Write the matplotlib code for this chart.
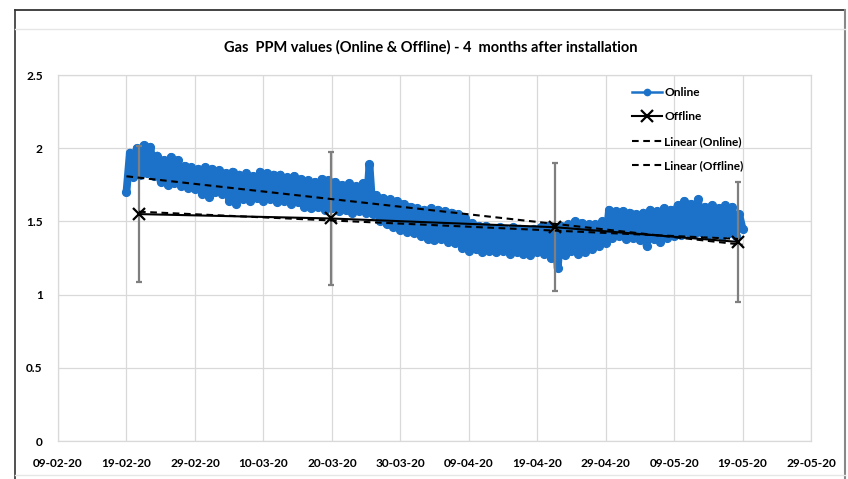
import numpy as np
import matplotlib
matplotlib.use("Agg")
import matplotlib.pyplot as plt
import matplotlib.dates as mdates
from matplotlib.ticker import FuncFormatter, MultipleLocator
from matplotlib.lines import Line2D

plt.rcParams['font.family'] = ['Lato', 'DejaVu Sans']
plt.rcParams['font.weight'] = 'bold'
plt.rcParams['path.simplify'] = False

title = "Gas  PPM values (Online & Offline) - 4  months after installation"

# Online readings, one value every 12 hours starting 19-02-20
online_start = "2020-02-19"
online_values = [
    1.70,
    1.97, 1.80, 2.00, 1.82, 2.02, 1.83, 2.01, 1.81, 1.95, 1.77,
    1.92, 1.75, 1.94, 1.76, 1.92, 1.74, 1.88, 1.73, 1.87, 1.72,
    1.86, 1.69, 1.87, 1.67, 1.86, 1.70, 1.85, 1.69, 1.83, 1.64,
    1.84, 1.62, 1.82, 1.65, 1.83, 1.64, 1.81, 1.66, 1.84, 1.64,
    1.83, 1.65, 1.82, 1.63, 1.82, 1.64, 1.80, 1.62, 1.81, 1.63,
    1.79, 1.60, 1.78, 1.59, 1.77, 1.60, 1.79, 1.58, 1.78, 1.59,
    1.77, 1.57, 1.75, 1.58, 1.76, 1.56, 1.74, 1.57, 1.76, 1.56,
    1.89, 1.55, 1.68, 1.50, 1.66, 1.48, 1.65, 1.46, 1.64, 1.44,
    1.62, 1.43, 1.60, 1.42, 1.59, 1.40, 1.58, 1.38, 1.59, 1.37,
    1.58, 1.38, 1.57, 1.36, 1.56, 1.35, 1.55, 1.32, 1.52, 1.30,
    1.49, 1.31, 1.47, 1.29, 1.47, 1.30, 1.45, 1.29, 1.46, 1.30,
    1.44, 1.28, 1.46, 1.29, 1.45, 1.28, 1.44, 1.27, 1.45, 1.29,
    1.46, 1.28, 1.47, 1.25, 1.46, 1.18, 1.47, 1.27, 1.48, 1.30,
    1.50, 1.28, 1.49, 1.29, 1.48, 1.31, 1.48, 1.33, 1.50, 1.35,
    1.58, 1.39, 1.57, 1.40, 1.57, 1.38, 1.56, 1.39, 1.55, 1.37,
    1.56, 1.33, 1.58, 1.38, 1.57, 1.36, 1.59, 1.39, 1.58, 1.40,
    1.61, 1.41, 1.64, 1.43, 1.62, 1.42, 1.65, 1.43, 1.60, 1.41,
    1.61, 1.42, 1.59, 1.40, 1.61, 1.42, 1.60, 1.40, 1.55, 1.45,
]

# Offline readings with error bars
offline_dates = ["2020-02-20 20:00", "2020-03-19 20:00", "2020-04-21 16:00", "2020-05-18 08:00"]
offline_values = [1.55, 1.52, 1.46, 1.36]
offline_errors = [0.465, 0.456, 0.438, 0.408]

x_ticks = ["2020-02-09", "2020-02-19", "2020-02-29", "2020-03-10", "2020-03-20", "2020-03-30",
           "2020-04-09", "2020-04-19", "2020-04-29", "2020-05-09", "2020-05-19", "2020-05-29"]

online_t = mdates.date2num(np.datetime64(online_start)) + 0.5 * np.arange(len(online_values))
off_t = mdates.date2num([np.datetime64(d.replace(" ", "T")) for d in offline_dates])
tick_t = mdates.date2num([np.datetime64(d) for d in x_ticks])

fig = plt.figure(figsize=(8.48, 4.79), dpi=100)
ax = fig.add_axes([58/848, 1 - 441/479, (811-58)/848, (441-75)/479])

blue = '#1c72c8'
ax.plot(online_t, online_values, color=blue, lw=5.6, marker='o', ms=5.6,
        mec=blue, mfc=blue, zorder=3, solid_joinstyle='round', solid_capstyle='round')
# legend proxy for the online series (thin line + dot, as in the original legend)
h_on = Line2D([], [], color=blue, lw=1.8, marker='o', ms=4.5, mfc=blue, mec=blue)

ax.errorbar(off_t, offline_values, yerr=offline_errors, fmt='none', ecolor='#7f7f7f',
            elinewidth=1.6, capsize=2.2, capthick=1.6, zorder=4)
h_off, = ax.plot(off_t, offline_values, color='black', lw=1.5, marker='x', ms=9, mew=1.6,
                 zorder=6)

# Linear trendlines
p_on = np.polyfit(online_t, online_values, 1)
tt = np.array([online_t[0], online_t[-1]])
h_lon, = ax.plot(tt, np.polyval(p_on, tt), color='black', lw=1.5, ls=(0, (3.2, 2.2)), zorder=5)
p_off = np.polyfit(off_t, offline_values, 1)
tt2 = np.array([off_t[0], off_t[-1]])
h_loff, = ax.plot(tt2, np.polyval(p_off, tt2), color='black', lw=1.5, ls=(0, (3.2, 2.2)), zorder=5)

ax.set_xlim(tick_t[0], tick_t[-1])
ax.set_ylim(0, 2.5)
ax.set_xticks(tick_t)
ax.xaxis.set_major_formatter(mdates.DateFormatter('%d-%m-%y'))
ax.yaxis.set_major_locator(MultipleLocator(0.5))
ax.yaxis.set_major_formatter(FuncFormatter(lambda v, p: f"{v:g}"))
ax.grid(True, color='#d9d9d9', lw=0.9, zorder=0)
ax.set_axisbelow(True)
for s in ax.spines.values():
    s.set_color('#d9d9d9')
    s.set_linewidth(0.9)
ax.tick_params(length=0, labelsize=8.6)
ax.tick_params(axis='y', pad=11)
ax.tick_params(axis='x', pad=12)
for lbl in ax.get_xticklabels() + ax.get_yticklabels():
    lbl.set_fontweight('bold')

fig.text(0.5075, 1 - 47/479, title, ha='center', va='center', fontsize=10.5,
         fontweight='bold')

ax.legend([h_on, h_off, h_lon, h_loff],
          ['Online', 'Offline', 'Linear (Online)', 'Linear (Offline)'],
          loc='upper left', bbox_to_anchor=(626/848, 1 - 81/479),
          bbox_transform=fig.transFigure, frameon=False,
          handlelength=2.5, handletextpad=0.2, labelspacing=1.12, borderpad=0,
          prop={'weight': 'bold', 'size': 8.6})

# outer chart frame
fig.add_artist(Line2D([15/848, 845/848], [1 - 10/479, 1 - 10/479], color='#222222', lw=1.2,
                      transform=fig.transFigure))
fig.add_artist(Line2D([15/848, 15/848], [1 - 10/479, 0], color='#333333', lw=1.2,
                      transform=fig.transFigure))
fig.add_artist(Line2D([845/848, 845/848], [1 - 10/479, 0], color='#888888', lw=1.5,
                      transform=fig.transFigure))
fig.add_artist(Line2D([15/848, 845/848], [1 - 29/479, 1 - 29/479], color='#e6e6e6', lw=1.0,
                      transform=fig.transFigure))
fig.add_artist(Line2D([15/848, 845/848], [1 - 475/479, 1 - 475/479], color='#e6e6e6', lw=1.0,
                      transform=fig.transFigure))

fig.savefig('out.png', dpi=100)
